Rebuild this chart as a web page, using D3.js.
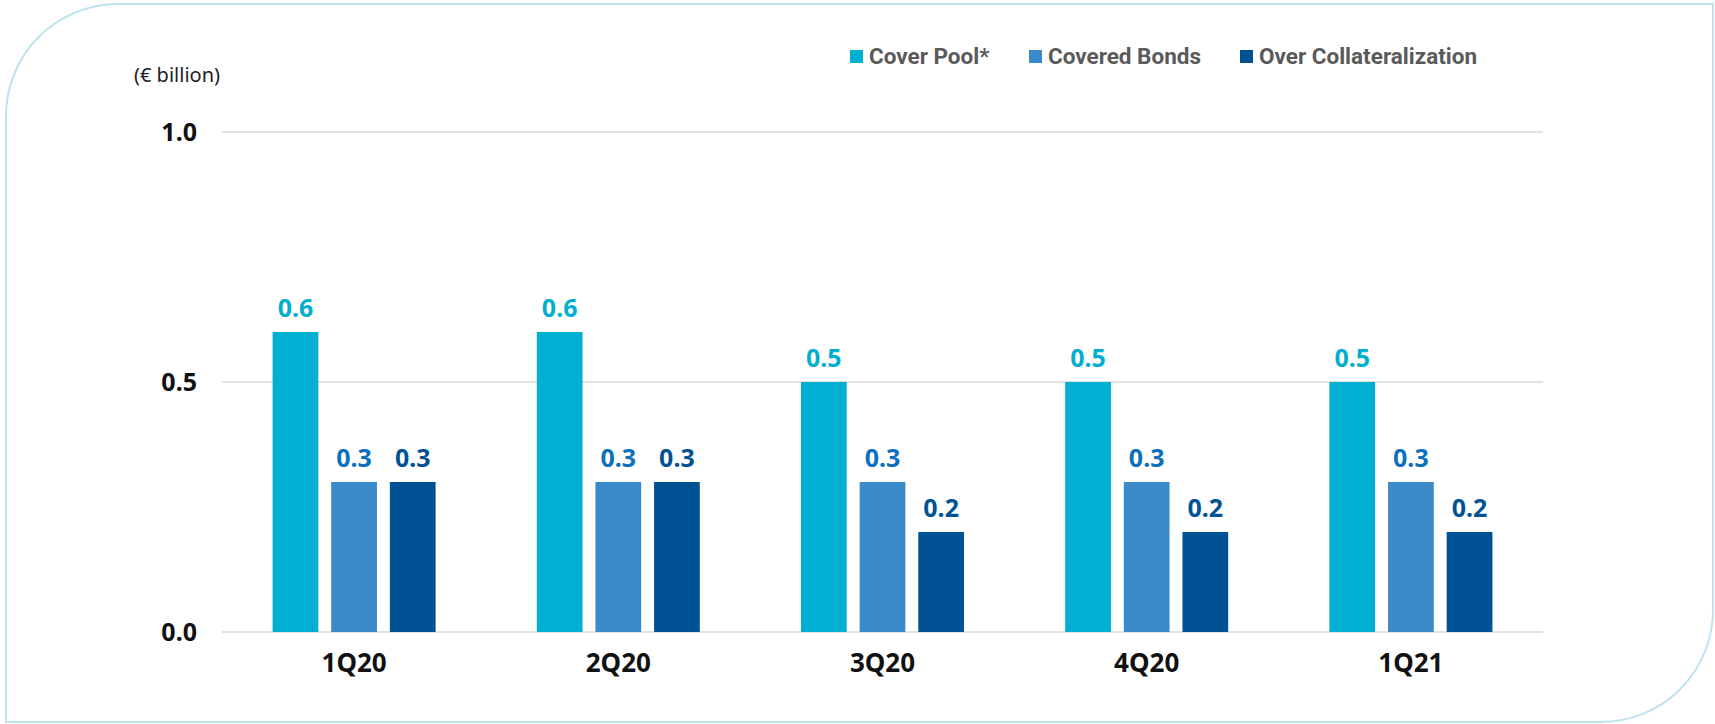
<!DOCTYPE html>
<html>
<head>
<meta charset="utf-8">
<script src="https://cdn.jsdelivr.net/npm/d3@7"></script>
<style>
  html, body { margin: 0; padding: 0; background: #fff; }
  svg { display: block; }
</style>
</head>
<body>
<svg id="chart" width="1715" height="724"></svg>
<script>
// Quarterly cover pool vs covered bonds (€ billion)
const quarters = ["1Q20", "2Q20", "3Q20", "4Q20", "1Q21"];
const seriesNames = ["Cover Pool*", "Covered Bonds", "Over Collateralization"];
const coverPool = [0.6, 0.6, 0.5, 0.5, 0.5];
const coveredBonds = [0.3, 0.3, 0.3, 0.3, 0.3];
const overCollateralization = [0.3, 0.3, 0.2, 0.2, 0.2];
const yTicks = [0, 0.5, 1.0];
const unitLabel = "(€ billion)";

const barColors = ["#00afd2", "#3b8ac9", "#005295"];
const labelColors = ["#00aed0", "#0a6fbd", "#005295"];

const values = [coverPool, coveredBonds, overCollateralization];
const rows = quarters.map((q, i) => ({
  quarter: q,
  vals: seriesNames.map((s, k) => ({ series: s, k, value: values[k][i] }))
}));

const svg = d3.select("#chart");

// Frame with two rounded corners (top-left, bottom-right)
const R = 112, L = 6, T = 4, Rt = 1713, B = 722;
const frame = d3.path();
frame.moveTo(L + R, T);
frame.lineTo(Rt, T);
frame.lineTo(Rt, B - R);
frame.arcTo(Rt, B, Rt - R, B, R);
frame.lineTo(L, B);
frame.lineTo(L, T + R);
frame.arcTo(L, T, L + R, T, R);
frame.closePath();
svg.append("path")
  .attr("d", frame.toString())
  .attr("fill", "none")
  .attr("stroke", "#bde3ee")
  .attr("stroke-width", 2);

const plotLeft = 222, plotRight = 1543;
const y = d3.scaleLinear().domain([0, 1]).range([632, 132]);
const x0 = d3.scaleBand().domain(quarters).range([plotLeft, plotRight])
  .paddingInner(0.383).paddingOuter(0.1915);
const x1 = d3.scaleBand().domain(seriesNames).range([0, x0.bandwidth()])
  .paddingInner(0.22).paddingOuter(0);

const font = "'Noto Sans', 'Open Sans', sans-serif";

// Gridlines
svg.append("g").selectAll("line")
  .data(yTicks).join("line")
  .attr("x1", plotLeft).attr("x2", plotRight)
  .attr("y1", d => y(d)).attr("y2", d => y(d))
  .attr("stroke", "#d9d9d9").attr("stroke-width", 1.5);

// Y axis labels
const yAxis = d3.axisLeft(y).tickValues(yTicks).tickFormat(d3.format(".1f")).tickSize(0).tickPadding(25);
const gy = svg.append("g").attr("transform", `translate(${plotLeft},0)`).call(yAxis);
gy.select(".domain").remove();
gy.selectAll("text")
  .attr("font-family", font).attr("font-size", 25).attr("font-weight", 700)
  .attr("fill", "#111");

svg.append("text")
  .attr("x", 177).attr("y", 82)
  .attr("text-anchor", "middle")
  .attr("font-family", font).attr("font-size", 20).attr("fill", "#222")
  .text(unitLabel);

// X axis labels
const xAxis = d3.axisBottom(x0).tickSize(0).tickPadding(22);
const gx = svg.append("g").attr("transform", `translate(0,${y(0)})`).call(xAxis);
gx.select(".domain").remove();
gx.selectAll("text")
  .attr("font-family", font).attr("font-size", 26).attr("font-weight", 700)
  .attr("fill", "#111");

// Bars and value labels
const groups = svg.append("g").selectAll("g")
  .data(rows).join("g")
  .attr("transform", d => `translate(${x0(d.quarter)},0)`);

groups.selectAll("rect")
  .data(d => d.vals).join("rect")
  .attr("x", d => x1(d.series))
  .attr("width", x1.bandwidth())
  .attr("y", d => y(d.value))
  .attr("height", d => y(0) - y(d.value))
  .attr("fill", d => barColors[d.k]);

groups.selectAll("text")
  .data(d => d.vals).join("text")
  .attr("x", d => x1(d.series) + x1.bandwidth() / 2)
  .attr("y", d => y(d.value) - 15)
  .attr("text-anchor", "middle")
  .attr("font-family", font).attr("font-size", 25).attr("font-weight", 700)
  .attr("fill", d => labelColors[d.k])
  .text(d => d3.format(".1f")(d.value));

// Legend
const legendX = [850, 1029, 1240];
const legend = svg.append("g").selectAll("g")
  .data(seriesNames).join("g")
  .attr("transform", (d, i) => `translate(${legendX[i]},50)`);
legend.append("rect")
  .attr("width", 13).attr("height", 13)
  .attr("fill", (d, i) => barColors[i]);
legend.append("text")
  .attr("x", 19).attr("y", 14)
  .attr("font-family", "'Roboto', sans-serif").attr("font-size", 22.5).attr("font-weight", 700)
  .attr("fill", "#5a5a5a")
  .text(d => d);
</script>
</body>
</html>
